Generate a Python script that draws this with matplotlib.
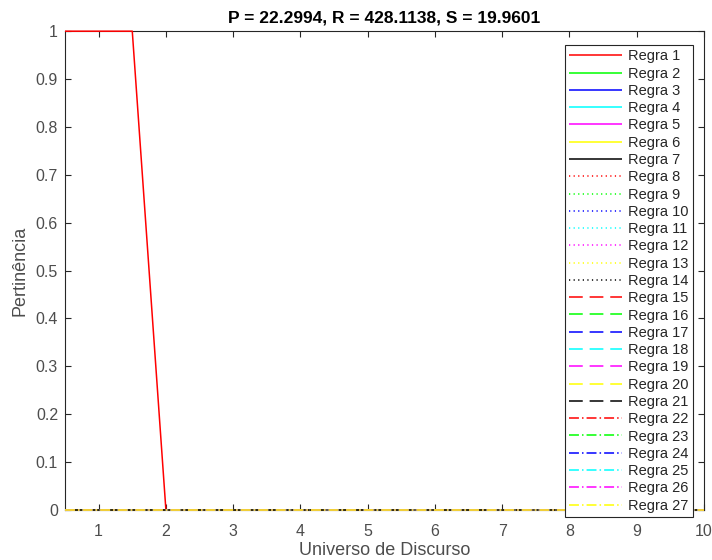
import matplotlib
matplotlib.use("Agg")
import matplotlib.pyplot as plt
from matplotlib.ticker import FuncFormatter

plt.rcParams['font.family'] = ['Liberation Sans', 'DejaVu Sans']

# universo de discurso e pertinencias (so a regra 1 esta ativa)
x_pts = [0.5, 1.5, 2.0, 10.0]
regra1 = [1.0, 1.0, 0.0, 0.0]
zeros = [0.0, 0.0, 0.0, 0.0]
n_regras = 27
cores = ['#ff0000', '#00ff00', '#0000ff', '#00ffff', '#ff00ff', '#ffff00', '#000000']
# estilos tipo matlab: '-', ':', '--', '-.'
estilos = [(0, ()), (0, (0.8, 2.2)), (0, (9, 4.5)), (0, (6.5, 2, 1, 2))]
titulo = 'P = 22.2994, R = 428.1138, S = 19.9601'

fig = plt.figure(figsize=(7.12, 5.60), dpi=100)
ax = fig.add_axes([0.0913, 0.0893, 0.8975, 0.855])

for i in range(n_regras):
    y = regra1 if i == 0 else zeros
    ax.plot(x_pts, y, color=cores[i % 7], linestyle=estilos[i // 7],
            linewidth=1.1, label='Regra %d' % (i + 1), clip_on=False, zorder=3)

ax.set_xlim(0.5, 10)
ax.set_ylim(0, 1)
ax.set_xticks(range(1, 11))
ax.set_yticks([i / 10 for i in range(11)])
ax.yaxis.set_major_formatter(FuncFormatter(lambda v, p: ('%g' % round(v, 1))))

grey = '#262626'
for s in ax.spines.values():
    s.set_color(grey)
    s.set_linewidth(0.8)
ax.tick_params(direction='in', top=True, right=True, length=4, width=0.8,
               colors=grey, labelcolor='#4d4d4d', labelsize=11.5)
ax.tick_params(axis='x', pad=10)
ax.tick_params(axis='y', pad=5)
ax.set_xlabel('Universo de Discurso', fontsize=13, color='#4d4d4d', labelpad=2)
ax.set_ylabel('Pertinência', fontsize=13, color='#4d4d4d', labelpad=5)
ax.set_title(titulo, fontsize=12.5, fontweight='bold', pad=6)

leg = ax.legend(loc='upper left', bbox_to_anchor=(565 / 712, 1 - 45 / 560),
                bbox_transform=fig.transFigure, fontsize=10.5, labelspacing=0.225,
                handlelength=3.6, handletextpad=0.4, borderpad=0.3,
                borderaxespad=0, fancybox=False, framealpha=1)
leg.set_zorder(5)
leg.get_frame().set_edgecolor(grey)
leg.get_frame().set_linewidth(0.8)
for t in leg.get_texts():
    t.set_color(grey)

fig.savefig('out.png', dpi=100)
